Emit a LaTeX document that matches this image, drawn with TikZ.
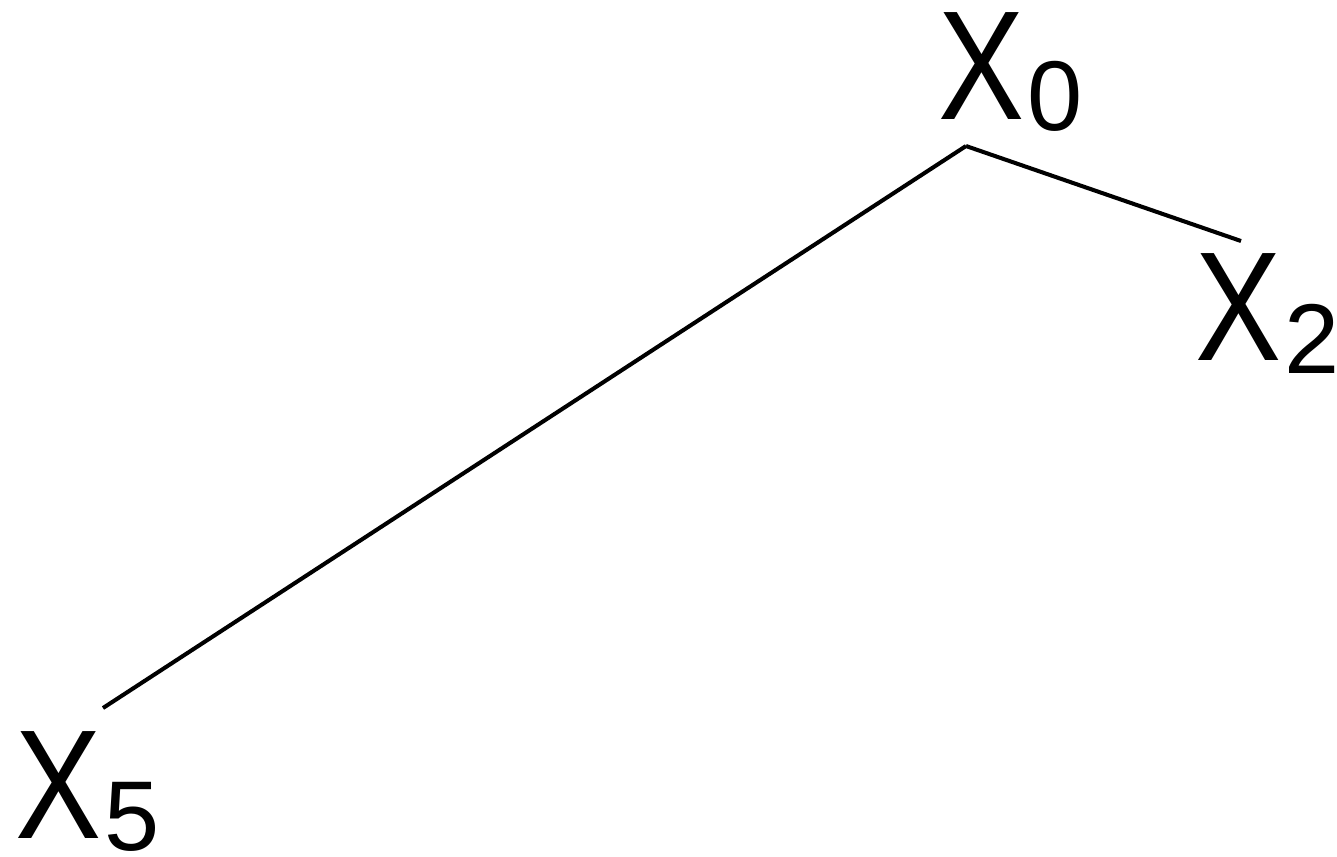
\documentclass[tikz,border=0pt]{standalone}
\usepackage{graphicx}
\usepackage{fontspec}
\newfontfamily\labfont{Liberation Sans}
\newcommand{\Xsub}[2]{\scalebox{0.83}[1]{\fontsize{44.2pt}{50pt}\selectfont X}\kern0.03cm\raisebox{-#2}{\fontsize{28.2pt}{32pt}\selectfont #1}}
\tikzset{
  lab/.style={inner sep=0pt, outer sep=0pt, anchor=base west, font=\labfont},
  edge/.style={draw=black, line width=1.15pt}
}
\begin{document}
\begin{tikzpicture}[x=0.01cm,y=-0.01cm]
\useasboundingbox (0,0) rectangle (1337,856);
\node[lab] (x0) at (938,119) {\Xsub{0}{0.11cm}};
\node[lab] (x2) at (1195,360) {\Xsub{2}{0.13cm}};
\node[lab] (x5) at (15,838) {\Xsub{5}{0.12cm}};
\coordinate (a0) at (966,146);
\coordinate (e2) at (1241,241);
\coordinate (e5) at (103,708);
\draw[edge] (a0) -- (e2);
\draw[edge] (a0) -- (e5);
\end{tikzpicture}
\end{document}
